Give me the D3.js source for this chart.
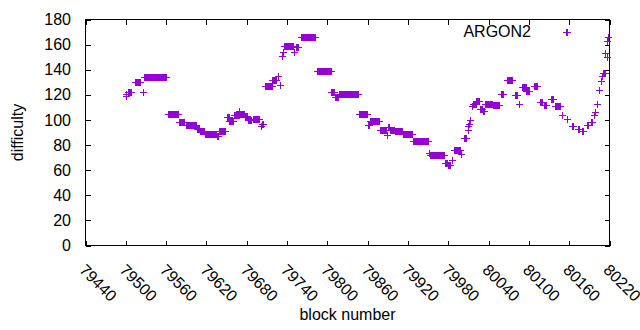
<!DOCTYPE html>
<html>
<head>
<meta charset="utf-8">
<script src="https://cdn.jsdelivr.net/npm/d3@7"></script>
<style>
    body { margin: 0; background: #fff; }
    svg { display: block; font-family: 'Liberation Sans', Arial, sans-serif; }
</style>
</head>
<body>
<svg></svg>
<script>
// difficulty is constant over runs of blocks: [first block, last block, difficulty]
const runStart = [79500, 79501, 79503, 79513, 79525, 79527, 79563, 79579, 79589, 79606,
    79610, 79618, 79635, 79638, 79651, 79654, 79661, 79669, 79670, 79677,
    79682, 79689, 79701, 79702, 79707, 79718, 79727, 79729, 79732, 79734,
    79735, 79751, 79753, 79761, 79784, 79806, 79812, 79817, 79847, 79860,
    79863, 79879, 79889, 79890, 79893, 79900, 79912, 79928, 79951, 79953,
    79975, 79979, 79985, 79989, 79999, 80003, 80009, 80010, 80011, 80013,
    80015, 80017, 80022, 80027, 80031, 80035, 80046, 80058, 80068, 80080,
    80085, 80090, 80096, 80107, 80116, 80122, 80133, 80139, 80150, 80155,
    80156, 80164, 80173, 80179, 80186, 80192, 80197, 80199, 80201, 80204,
    80207, 80209, 80211, 80214, 80216, 80217, 80218]
const runEnd = [79500, 79501, 79507, 79521, 79525, 79560, 79577, 79587, 79605, 79609,
    79616, 79634, 79637, 79648, 79653, 79660, 79668, 79669, 79676, 79681,
    79687, 79698, 79701, 79704, 79717, 79724, 79727, 79729, 79732, 79734,
    79749, 79751, 79756, 79781, 79805, 79810, 79816, 79845, 79859, 79862,
    79877, 79887, 79889, 79892, 79899, 79911, 79926, 79950, 79951, 79973,
    79978, 79983, 79985, 79998, 79999, 80006, 80009, 80010, 80011, 80013,
    80015, 80021, 80026, 80030, 80033, 80045, 80056, 80062, 80075, 80083,
    80085, 80095, 80100, 80112, 80120, 80126, 80136, 80146, 80150, 80155,
    80157, 80166, 80174, 80181, 80188, 80194, 80197, 80199, 80202, 80205,
    80207, 80209, 80213, 80214, 80216, 80217, 80218]
const runDifficulty = [119, 121, 122, 130, 122, 134, 105, 98, 96, 93,
    91, 89, 87, 91, 102, 99, 104, 107, 105, 103,
    100, 101, 95, 97, 127, 132, 135, 128, 151, 154,
    159, 154, 158, 166, 139, 122, 118, 121, 105, 96,
    99, 92, 88, 94, 92, 91, 89, 83, 74, 72,
    66, 64, 68, 76, 73, 86, 92, 95, 97, 100,
    111, 113, 115, 109, 107, 113, 112, 121, 132, 120,
    113, 126, 123, 127, 114, 112, 117, 111, 104, 170,
    101, 95, 93, 91, 96, 98, 104, 106, 113, 124,
    131, 135, 137, 153, 150, 163, 166]

const xTicks = [79440, 79500, 79560, 79620, 79680, 79740, 79800, 79860, 79920, 79980, 80040, 80100, 80160, 80220]
const yTicks = [0, 20, 40, 60, 80, 100, 120, 140, 160, 180]
const seriesName = 'ARGON2'

const width = 640
const height = 330
const plotLeft = 85.5, plotRight = 609.5, plotTop = 19.5, plotBottom = 245.5
const color = '#9400d3'
const tick = 5

const svg = d3.select('svg')
    .attr('width', width)
    .attr('height', height)

const x = d3.scaleLinear().domain([79440, 80220]).range([plotLeft, plotRight])
const y = d3.scaleLinear().domain([0, 180]).range([plotBottom, plotTop])

// one point per block
const points = runStart.flatMap((s, i) =>
    d3.range(s, runEnd[i] + 1).map(b => ({ block: b, difficulty: runDifficulty[i] })))

// axes: ticks inside, mirrored like gnuplot
const xAxis = d3.axisBottom(x).tickValues(xTicks).tickSize(-tick).tickFormat('')
const xTop = d3.axisTop(x).tickValues(xTicks).tickSize(-tick).tickFormat('')
const yAxis = d3.axisLeft(y).tickValues(yTicks).tickSize(-tick).tickFormat('')
const yRight = d3.axisRight(y).tickValues(yTicks).tickSize(-tick).tickFormat('')

const drawAxis = (axis, tr) => svg.append('g')
    .attr('transform', tr)
    .call(axis)
    .call(g => g.select('.domain').remove())
    .call(g => g.selectAll('line').attr('stroke', '#000').attr('shape-rendering', 'crispEdges'))

drawAxis(xAxis, `translate(0, ${plotBottom})`)
drawAxis(xTop, `translate(0, ${plotTop})`)
drawAxis(yAxis, `translate(${plotLeft}, 0)`)
drawAxis(yRight, `translate(${plotRight}, 0)`)

svg.append('rect')
    .attr('x', plotLeft).attr('y', plotTop)
    .attr('width', plotRight - plotLeft).attr('height', plotBottom - plotTop)
    .attr('fill', 'none').attr('stroke', '#000')
    .attr('shape-rendering', 'crispEdges')

svg.append('g').selectAll('text')
    .data(yTicks)
    .enter()
    .append('text')
    .attr('x', 71)
    .attr('y', d => y(d))
    .attr('dy', '.35em')
    .attr('text-anchor', 'end')
    .attr('font-size', 16)
    .text(d => d)

svg.append('g').selectAll('text')
    .data(xTicks)
    .enter()
    .append('text')
    .attr('transform', d => `translate(${x(d) - 7}, 271) rotate(45)`)
    .attr('font-size', 16)
    .text(d => d)

svg.append('text')
    .attr('x', (plotLeft + plotRight) / 2)
    .attr('y', 320)
    .attr('text-anchor', 'middle')
    .attr('font-size', 16)
    .text('block number')

svg.append('text')
    .attr('transform', `translate(23, ${(plotTop + plotBottom) / 2}) rotate(-90)`)
    .attr('text-anchor', 'middle')
    .attr('font-size', 16)
    .text('difficulty')

// plus markers
const plus = (cx, cy) => `M${cx - 3.5},${cy}h7M${cx},${cy - 3.5}v7`

svg.append('g')
    .selectAll('path')
    .data(points)
    .enter()
    .append('path')
    .attr('d', d => plus(Math.round(x(d.block)) + 0.5, Math.round(y(d.difficulty)) + 0.5))
    .attr('stroke', color)
    .attr('fill', 'none')

// key
svg.append('text')
    .attr('x', 531)
    .attr('y', 37)
    .attr('text-anchor', 'end')
    .attr('font-size', 16)
    .text(seriesName)
svg.append('path')
    .attr('d', plus(567.5, 32.5))
    .attr('stroke', color)
    .attr('fill', 'none')
</script>
</body>
</html>
